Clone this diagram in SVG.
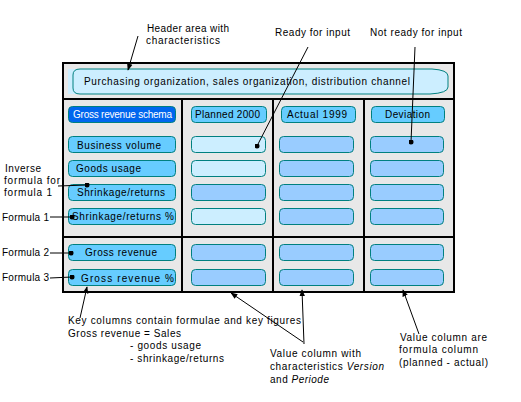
<svg xmlns="http://www.w3.org/2000/svg" width="521" height="402" viewBox="0 0 521 402">
<defs>
<marker id="arr" viewBox="0 0 10 10" refX="9" refY="5" markerWidth="7" markerHeight="7" orient="auto" markerUnits="userSpaceOnUse"><path d="M0,1 L10,5 L0,9 Z" fill="#000"/></marker>
<marker id="dot" viewBox="0 0 6 6" refX="3" refY="3" markerWidth="5" markerHeight="5" markerUnits="userSpaceOnUse"><circle cx="3" cy="3" r="3" fill="#000"/></marker>
</defs>
<style>
text{font-family:"Liberation Sans",Arial,sans-serif;font-size:10px;fill:#000}
.w{fill:#fff}
.it{font-style:italic}
.lab{fill:#66ccff;stroke:#008080;stroke-width:1}
.val{fill:#99ccff;stroke:#008080;stroke-width:1}
.inp{fill:#cceeff;stroke:#008080;stroke-width:1}
.sch{fill:#0066ee;stroke:#008080;stroke-width:1}
.frame{fill:none;stroke:#000;stroke-width:2}
.c{fill:none;stroke:#000;stroke-width:1}
</style>
<rect width="521" height="402" fill="#fff"/>
<g id="table">
<rect x="63" y="63" width="391" height="229" fill="#e8e8e8"/>
<rect x="63" y="63" width="391" height="229" class="frame"/>
<line x1="63" y1="99" x2="454" y2="99" class="frame"/>
<line x1="63" y1="237" x2="454" y2="237" class="frame"/>
<line x1="182" y1="99" x2="182" y2="292" class="frame"/>
<line x1="273" y1="99" x2="273" y2="292" class="frame"/>
<line x1="364" y1="99" x2="364" y2="292" class="frame"/>
</g>
<g id="header">
<rect x="68" y="69" width="12" height="25" fill="#cceeff"/>
<path d="M80,69 L432,69 Q448,70 448,76 L448,87 Q448,93 430,94 L80,94 Q73,94 73,88 L73,75 Q73,69 80,69 Z" fill="#cceeff" stroke="#008080" stroke-width="1"/>
<text x="84" y="85" textLength="326" lengthAdjust="spacing">Purchasing organization, sales organization, distribution channel</text>
</g>
<g id="col-headers">
<rect x="68.5" y="106.5" width="107" height="16" rx="4" class="sch"/>
<text x="73" y="118" class="w" textLength="99" lengthAdjust="spacing">Gross revenue schema</text>
<rect x="191.5" y="106.5" width="75" height="16" rx="4" class="lab"/>
<text x="195" y="118" textLength="65" lengthAdjust="spacing">Planned 2000</text>
<rect x="281.5" y="106.5" width="74" height="16" rx="4" class="lab"/>
<text x="287" y="118" textLength="60" lengthAdjust="spacing">Actual  1999</text>
<rect x="371.5" y="106.5" width="73" height="16" rx="4" class="lab"/>
<text x="385" y="118" textLength="45" lengthAdjust="spacing">Deviation</text>
</g>
<g id="key-column">
<rect x="68.5" y="136.5" width="107" height="16" rx="4" class="lab"/>
<text x="77" y="149" textLength="84" lengthAdjust="spacing">Business volume</text>
<rect x="68.5" y="160.5" width="107" height="16" rx="4" class="lab"/>
<text x="76" y="172" textLength="65" lengthAdjust="spacing">Goods usage</text>
<rect x="68.5" y="184.5" width="107" height="16" rx="4" class="lab"/>
<text x="77" y="196" textLength="88" lengthAdjust="spacing">Shrinkage/returns</text>
<rect x="68.5" y="208.5" width="107" height="16" rx="4" class="lab"/>
<text x="72" y="220" textLength="102" lengthAdjust="spacing">Shrinkage/returns %</text>
<rect x="68.5" y="244.5" width="107" height="16" rx="4" class="lab"/>
<text x="85" y="256" textLength="72" lengthAdjust="spacing">Gross revenue</text>
<rect x="68.5" y="269.5" width="107" height="16" rx="4" class="lab"/>
<text x="81" y="282" textLength="93" lengthAdjust="spacing">Gross revenue %</text>
</g>
<g id="planned-column">
<rect x="191.5" y="136.5" width="74" height="16" rx="4" class="inp"/>
<rect x="191.5" y="160.5" width="74" height="16" rx="4" class="inp"/>
<rect x="191.5" y="184.5" width="74" height="16" rx="4" class="val"/>
<rect x="191.5" y="208.5" width="74" height="16" rx="4" class="inp"/>
<rect x="191.5" y="244.5" width="74" height="16" rx="4" class="val"/>
<rect x="191.5" y="269.5" width="74" height="16" rx="4" class="val"/>
</g>
<g id="actual-column">
<rect x="279.5" y="136.5" width="74" height="16" rx="4" class="val"/>
<rect x="279.5" y="160.5" width="74" height="16" rx="4" class="val"/>
<rect x="279.5" y="184.5" width="74" height="16" rx="4" class="val"/>
<rect x="279.5" y="208.5" width="74" height="16" rx="4" class="val"/>
<rect x="279.5" y="244.5" width="74" height="16" rx="4" class="val"/>
<rect x="279.5" y="269.5" width="74" height="16" rx="4" class="val"/>
</g>
<g id="deviation-column">
<rect x="370.5" y="136.5" width="73" height="16" rx="4" class="val"/>
<rect x="370.5" y="160.5" width="73" height="16" rx="4" class="val"/>
<rect x="370.5" y="184.5" width="73" height="16" rx="4" class="val"/>
<rect x="370.5" y="208.5" width="73" height="16" rx="4" class="val"/>
<rect x="370.5" y="244.5" width="73" height="16" rx="4" class="val"/>
<rect x="370.5" y="269.5" width="73" height="16" rx="4" class="val"/>
</g>
<g id="annotations">
<text x="147" y="32" textLength="82" lengthAdjust="spacing">Header area with</text>
<text x="146" y="44" textLength="74" lengthAdjust="spacing">characteristics</text>
<text x="275" y="36" textLength="75" lengthAdjust="spacing">Ready for input</text>
<text x="370" y="36" textLength="92" lengthAdjust="spacing">Not ready for input</text>
<text x="5" y="172" textLength="36" lengthAdjust="spacing">Inverse</text>
<text x="4" y="184" textLength="56" lengthAdjust="spacing">formula for</text>
<text x="4" y="196" textLength="48" lengthAdjust="spacing">formula 1</text>
<text x="2" y="221" textLength="47" lengthAdjust="spacing">Formula 1</text>
<text x="2" y="256" textLength="47" lengthAdjust="spacing">Formula 2</text>
<text x="2" y="281" textLength="47" lengthAdjust="spacing">Formula 3</text>
<text x="68" y="324" textLength="233" lengthAdjust="spacing">Key columns contain formulae and key figures</text>
<text x="68" y="337" textLength="113" lengthAdjust="spacing">Gross revenue = Sales</text>
<text x="130" y="349" textLength="71" lengthAdjust="spacing">- goods usage</text>
<text x="130" y="362" textLength="94" lengthAdjust="spacing">- shrinkage/returns</text>
<text x="270" y="357" textLength="91" lengthAdjust="spacing">Value column with</text>
<text x="270" y="370" textLength="114" lengthAdjust="spacing">characteristics <tspan class="it">Version</tspan></text>
<text x="270" y="383" textLength="59" lengthAdjust="spacing">and <tspan class="it">Periode</tspan></text>
<text x="400" y="341" textLength="87" lengthAdjust="spacing">Value column are</text>
<text x="399" y="353" textLength="79" lengthAdjust="spacing">formula column</text>
<text x="399" y="366" textLength="89" lengthAdjust="spacing">(planned - actual)</text>
</g>
<g id="connectors">
<line x1="138" y1="36" x2="128" y2="70" class="c" marker-end="url(#arr)"/>
<line x1="308" y1="47" x2="257" y2="146" class="c" marker-end="url(#dot)"/>
<line x1="415" y1="47" x2="411" y2="142" class="c" marker-end="url(#dot)"/>
<line x1="58" y1="186" x2="87" y2="185" class="c" marker-end="url(#dot)"/>
<line x1="50" y1="217" x2="72" y2="217" class="c" marker-end="url(#dot)"/>
<line x1="50" y1="253" x2="71" y2="253" class="c" marker-end="url(#dot)"/>
<line x1="50" y1="278" x2="72" y2="277" class="c" marker-end="url(#dot)"/>
<line x1="80" y1="318" x2="87" y2="287" class="c" marker-end="url(#arr)"/>
<line x1="303" y1="342" x2="231" y2="293" class="c" marker-end="url(#arr)"/>
<line x1="304" y1="344" x2="302" y2="290" class="c" marker-end="url(#arr)"/>
<line x1="419" y1="334" x2="403" y2="290" class="c" marker-end="url(#arr)"/>
</g>
</svg>
